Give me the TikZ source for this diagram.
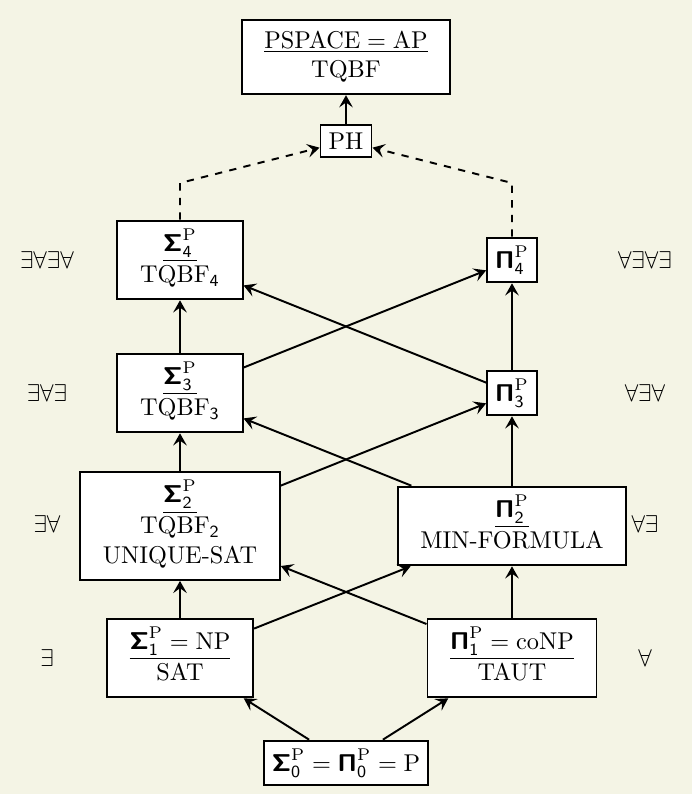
\documentclass[tikz,border=0pt]{standalone}
\usepackage{amsmath}
\usetikzlibrary{arrows.meta}
\definecolor{paper}{RGB}{244,244,229}
\newcommand{\SigP}[1]{\boldsymbol{\mathsf{\Sigma}}_{\mathsf{#1}}^{\mathrm{P}}}
\newcommand{\PiP}[1]{\boldsymbol{\mathsf{\Pi}}_{\mathsf{#1}}^{\mathrm{P}}}
\newcommand{\cname}[2]{\begin{tabular}{c}\underline{#1}\\#2\end{tabular}}
\tikzset{
  cls/.style = {draw, thick, fill = white},
  quant/.style = {inner sep = 0pt},
  link/.style = {thick, -{Stealth[length = 5pt, width = 5.6pt, inset = 2pt]}}
}
\begin{document}
\begin{tikzpicture}[x = 0.01446cm, y = 0.01446cm]
		\fill [paper] (0,0) rectangle (692,794);
		\useasboundingbox (0,0) rectangle (692,794);
		% classes
		\node [cls] (pspace) at (346,737) {\cname{$\mathrm{PSPACE} = \mathrm{AP}$}{TQBF}};
		\node [cls] (ph) at (346,653) {PH};
		\node [cls] (s4) at (180,534) {\cname{$\SigP{4}$}{TQBF$_{\mathsf{4}}$}};
		\node [cls] (p4) at (512,534) {$\PiP{4}$};
		\node [cls] (s3) at (180,401) {\cname{$\SigP{3}$}{TQBF$_{\mathsf{3}}$}};
		\node [cls] (p3) at (512,401) {$\PiP{3}$};
		\node [cls] (s2) at (180,268) {\begin{tabular}{c}\underline{$\SigP{2}$}\\TQBF$_{\mathsf{2}}$\\UNIQUE-SAT\end{tabular}};
		\node [cls] (p2) at (512,268) {\cname{$\PiP{2}$}{MIN-FORMULA}};
		\node [cls] (s1) at (180,136) {\cname{$\SigP{1} = \mathrm{NP}$}{SAT}};
		\node [cls] (p1) at (512,136) {\cname{$\PiP{1} = \mathrm{coNP}$}{TAUT}};
		\node [cls] (s0) at (346,31) {$\SigP{0} = \PiP{0} = \mathrm{P}$};
		% quantifier prefixes
		\node [quant] (q4) at (47,534) {$\exists\forall\exists\forall$};
		\node [quant] (q3) at (47,401) {$\exists\forall\exists$};
		\node [quant] (q2) at (47,270) {$\exists\forall$};
		\node [quant] (q1) at (47,136) {$\exists$};
		\node [quant] (r4) at (645,534) {$\forall\exists\forall\exists$};
		\node [quant] (r3) at (645,401) {$\forall\exists\forall$};
		\node [quant] (r2) at (645,270) {$\forall\exists$};
		\node [quant] (r1) at (645,136) {$\forall$};
		% inclusions
		\draw [link] (s0) -- (s1);
		\draw [link] (s0) -- (p1);
		\draw [link] (s1) -- (s2);
		\draw [link] (s1) -- (p2);
		\draw [link] (p1) -- (s2);
		\draw [link] (p1) -- (p2);
		\draw [link] (s2) -- (s3);
		\draw [link] (s2) -- (p3);
		\draw [link] (p2) -- (s3);
		\draw [link] (p2) -- (p3);
		\draw [link] (s3) -- (s4);
		\draw [link] (s3) -- (p4);
		\draw [link] (p3) -- (s4);
		\draw [link] (p3) -- (p4);
		\coordinate (kl) at (180,611);
		\coordinate (kr) at (512,611);
		\draw [link, dashed] (s4) -- (kl) -- (ph);
		\draw [link, dashed] (p4) -- (kr) -- (ph);
		\draw [link] (ph) -- (pspace);
	\end{tikzpicture}
\end{document}
